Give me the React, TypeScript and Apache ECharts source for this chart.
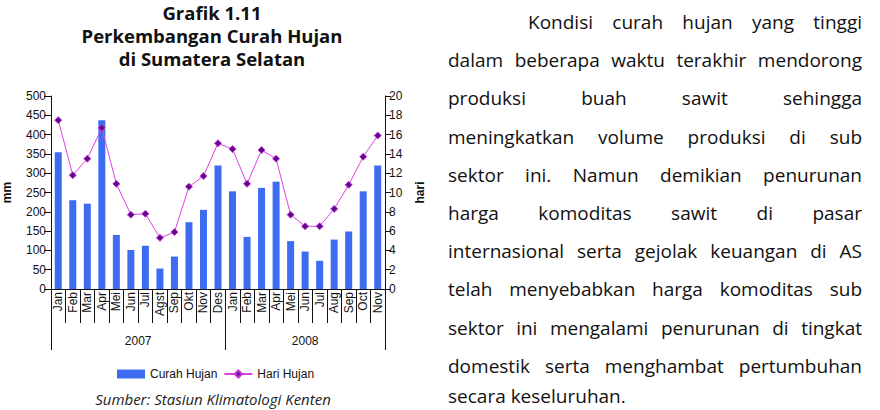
import React, { useEffect, useRef } from "react";
import * as echarts from "echarts";

const months2007 = ["Jan", "Feb", "Mar", "Apr", "Mei", "Jun", "Jul", "Agst", "Sep", "Okt", "Nov", "Des"];
const months2008 = ["Jan", "Feb", "Mar", "Apr", "Mei", "Jun", "Jul", "Aug", "Sep", "Oct", "Nov"];
const years = ["2007", "2008"];
const curahHujan = [354, 230, 221, 437, 140, 101, 112, 53, 84, 173, 205, 320, 253, 135, 262, 278, 124, 97, 73, 128, 149, 253, 320];
const hariHujan = [17.5, 11.8, 13.5, 16.7, 10.9, 7.7, 7.8, 5.3, 5.9, 10.6, 11.7, 15.1, 14.5, 10.9, 14.4, 13.5, 7.7, 6.5, 6.5, 8.3, 10.8, 13.7, 15.9];
const leftTicks = { min: 0, max: 500, interval: 50 };
const rightTicks = { min: 0, max: 20, interval: 2 };

const titleLines = ["Grafik 1.11", "Perkembangan Curah Hujan", "di Sumatera Selatan"];
const sourceText = "Sumber: Stasiun Klimatologi Kenten";
const paragraphLines = [
  "Kondisi curah hujan yang tinggi",
  "dalam beberapa waktu terakhir mendorong",
  "produksi buah sawit sehingga",
  "meningkatkan volume produksi di sub",
  "sektor ini. Namun demikian penurunan",
  "harga komoditas sawit di pasar",
  "internasional serta gejolak keuangan di AS",
  "telah menyebabkan harga komoditas sub",
  "sektor ini mengalami penurunan di tingkat",
  "domestik serta menghambat pertumbuhan",
  "secara keseluruhan.",
];

const PARA_FAMILY = '"Open Sans"';

function buildParagraph(): any[] {
  const canvas = document.createElement("canvas");
  const ctx = canvas.getContext("2d")!;
  const left = 448;
  const right = 862;
  const indent = 80;
  const top = 22;
  const lineH = 38.2;
  ctx.font = `20px ${PARA_FAMILY}`;
  const w20 = ctx.measureText(paragraphLines[1]).width;
  const fontSize = Math.min(20 * (right - left - 4) / w20, 19);
  ctx.font = `${fontSize}px ${PARA_FAMILY}`;
  const els: any[] = [];
  paragraphLines.forEach((line, li) => {
    const words = line.split(" ");
    const x0 = li === 0 ? left + indent : left;
    const y = top + li * lineH;
    const isLast = li === paragraphLines.length - 1;
    const widths = words.map((w) => ctx.measureText(w).width);
    const total = widths.reduce((a, b) => a + b, 0);
    const spaceW = ctx.measureText(" ").width;
    const gap = isLast || words.length < 2 ? spaceW : (right - x0 - total) / (words.length - 1);
    let x = x0;
    words.forEach((w, wi) => {
      els.push({
        type: "text",
        x,
        y: isLast ? Math.min(y, 396) : y,
        style: {
          text: w,
          fontSize,
          fontFamily: PARA_FAMILY,
          fill: "#111",
          textAlign: "left",
          textVerticalAlign: "middle",
        },
      });
      x += widths[wi] + gap;
    });
  });
  return els;
}

export default function App() {
  const ref = useRef<HTMLDivElement>(null);
  useEffect(() => {
    if (!ref.current) return;
    const chart = echarts.init(ref.current, undefined, { renderer: "svg" });
    const categories = [...months2007, ...months2008];
    const yearCounts = [months2007.length, months2008.length];
    const halfCount = categories.length * 2;
    const yearSlots = Array.from({ length: halfCount + 1 }, (_, i) => String(i));
    const tickIdx: number[] = [0];
    const labelIdx: Record<number, string> = {};
    let acc = 0;
    yearCounts.forEach((c, i) => {
      labelIdx[acc * 2 + c] = years[i];
      acc += c;
      tickIdx.push(acc * 2);
    });
    const font = '"Liberation Sans", Arial, sans-serif';
    const titleFont = '"Open Sans", sans-serif';
    chart.setOption({
      animation: false,
      grid: { left: 49, right: 495, top: 96, bottom: 121, containLabel: false },
      legend: {
        left: 112,
        top: 363,
        itemWidth: 28,
        itemHeight: 9,
        itemGap: 6,
        textStyle: { fontFamily: font, fontSize: 12, color: "#111" },
        data: [
          { name: "Curah Hujan", icon: "rect" },
          { name: "Hari Hujan" },
        ],
      },
      xAxis: [
        {
          type: "category",
          data: categories,
          position: "bottom",
          axisLine: { show: true, lineStyle: { color: "#111", width: 1 } },
          axisTick: { show: true, interval: 0, length: 34, lineStyle: { color: "#111" } },
          axisLabel: { interval: 0, rotate: 90, margin: 3, fontFamily: font, fontSize: 12, color: "#111" },
          splitLine: { show: false },
        },
        {
          type: "category",
          data: yearSlots,
          boundaryGap: false,
          position: "bottom",
          offset: 0,
          axisLine: { show: false },
          axisTick: {
            show: true,
            length: 61,
            interval: (i: number) => tickIdx.includes(i),
            lineStyle: { color: "#111" },
          },
          axisLabel: {
            interval: (i: number) => labelIdx[i] !== undefined,
            formatter: (_v: string, i: number) => labelIdx[i] || "",
            margin: 46,
            fontFamily: font,
            fontSize: 12,
            color: "#111",
          },
          splitLine: { show: false },
        },
      ],
      yAxis: [
        {
          type: "value",
          position: "left",
          ...leftTicks,
          name: "mm",
          nameLocation: "middle",
          nameRotate: 90,
          nameGap: 38,
          nameTextStyle: { fontFamily: font, fontSize: 12, fontWeight: "bold", color: "#111" },
          axisLine: { show: true, lineStyle: { color: "#111" } },
          axisTick: { show: true, length: 7, lineStyle: { color: "#111" } },
          axisLabel: { fontFamily: font, fontSize: 12, color: "#111", margin: 5 },
          splitLine: { show: false },
        },
        {
          type: "value",
          position: "right",
          ...rightTicks,
          name: "hari",
          nameLocation: "middle",
          nameRotate: 90,
          nameGap: 29,
          nameTextStyle: { fontFamily: font, fontSize: 12, fontWeight: "bold", color: "#111" },
          axisLine: { show: true, lineStyle: { color: "#111" } },
          axisTick: { show: true, length: 6, lineStyle: { color: "#111" } },
          axisLabel: { fontFamily: font, fontSize: 12, color: "#111", margin: 4 },
          splitLine: { show: false },
        },
      ],
      series: [
        {
          name: "Curah Hujan",
          type: "bar",
          xAxisIndex: 0,
          yAxisIndex: 0,
          data: curahHujan,
          barWidth: 7,
          itemStyle: { color: "#3d6cf0" },
        },
        {
          name: "Hari Hujan",
          type: "line",
          xAxisIndex: 0,
          yAxisIndex: 1,
          data: hariHujan,
          symbol: "diamond",
          symbolSize: 7,
          lineStyle: { color: "#e040e0", width: 1 },
          itemStyle: { color: "#5a0a8a", borderColor: "#d030d8", borderWidth: 1 },
        },
      ],
      graphic: [
        ...titleLines.map((t, i) => ({
          type: "text",
          x: 212,
          y: 12 + i * 23,
          style: {
            text: t,
            fontSize: 18.5,
            fontWeight: "bold",
            fontFamily: titleFont,
            fill: "#111",
            textAlign: "center",
            textVerticalAlign: "middle",
          },
        })),
        {
          type: "text",
          x: 213,
          y: 399,
          style: {
            text: sourceText,
            fontSize: 15,
            fontStyle: "italic",
            fontFamily: titleFont,
            fill: "#222",
            textAlign: "center",
            textVerticalAlign: "middle",
          },
        },
        ...buildParagraph(),
      ],
    });
    return () => chart.dispose();
  }, []);
  return (
    <div
      ref={ref}
      style={{ position: "fixed", left: 0, top: 0, width: 880, height: 410, background: "#fff" }}
    />
  );
}
